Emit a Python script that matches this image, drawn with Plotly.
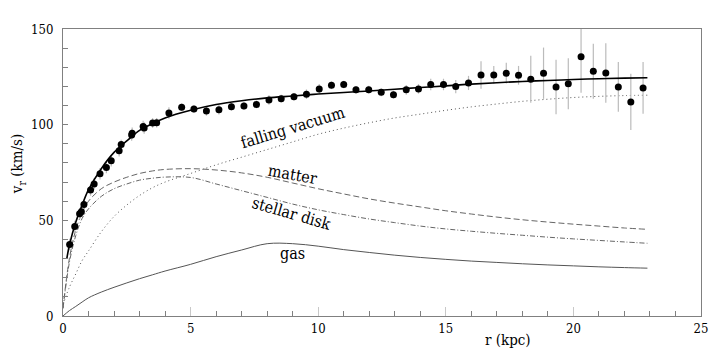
import plotly.graph_objects as go

# observed rotation curve
r_obs = [0.26, 0.46, 0.65, 0.72, 0.82, 1.08, 1.22, 1.45, 1.70, 1.89, 2.20, 2.28, 2.69, 2.71, 3.14,
         3.18, 3.51, 3.67, 4.15, 4.65, 5.13, 5.62, 6.11, 6.60, 7.09, 7.58, 8.07, 8.55, 9.05, 9.54,
         10.04, 10.52, 11.00, 11.48, 11.98, 12.47, 12.95, 13.45, 13.93, 14.41, 14.91, 15.39, 15.89,
         16.38, 16.88, 17.37, 17.85, 18.33, 18.83, 19.32, 19.80, 20.30, 20.78, 21.27, 21.76, 22.25, 22.73]
v_obs = [37.4, 46.8, 53.5, 54.5, 58.3, 65.9, 69.0, 74.3, 77.6, 81.2, 86.4, 89.6, 94.6, 95.5, 99.0,
         98.3, 100.9, 101.0, 106.1, 109.1, 108.2, 107.2, 107.8, 109.4, 109.8, 110.6, 112.9, 113.6, 114.6, 115.9,
         118.7, 120.6, 121.0, 118.2, 118.3, 116.9, 115.7, 118.2, 118.7, 121.0, 121.0, 119.9, 121.8,
         126.0, 126.0, 126.9, 125.8, 123.7, 126.9, 119.7, 121.4, 135.5, 127.9, 127.0, 119.7, 111.9, 119.2]
v_err = [3, 3, 3, 2.5, 2.5, 3, 3, 3, 3, 3, 3, 2.5, 3, 3, 3,
         3, 2.5, 2.5, 3, 2, 2, 2.5, 2.5, 2, 2, 2, 2.5, 2, 2, 2.5,
         2.5, 2, 2, 2, 2, 2, 2, 2.5, 2.5, 3, 3, 3.5, 3.7,
         7.2, 4.6, 5.4, 4.9, 12.3, 13.4, 14.2, 13.3, 18.8, 14.4, 15.5, 13, 14.7, 13.5]

# model curves
r_model = [0, 0.25, 0.5, 0.75, 1, 1.5, 2, 2.5, 3, 3.5, 4, 5, 6, 7, 8, 9, 10, 11, 12, 13,
           14, 15, 16, 17, 18, 19, 20, 21, 22, 22.9]
r_total = [0.15] + r_model[1:]
v_total = [30, 37, 49, 58, 66, 77, 85.5, 91.5, 97, 100.5, 103.5, 107.5, 110.5, 112.5, 114, 115, 116,
           116.8, 117.6, 118.5, 119.4, 120.3, 121.2, 121.9, 122.6, 123.1, 123.6, 124, 124.3, 124.5]
v_vacuum = [6, 15, 22, 29, 34, 44, 52, 58, 63, 67, 70, 74.5, 79, 83, 87, 91, 95, 98.2, 101, 103.5,
            105.5, 107.5, 109.3, 110.8, 112.2, 113.3, 114.2, 114.8, 115.2, 115.4]
v_matter = [4, 30, 45, 54, 60, 66.5, 70, 72.5, 74.5, 75.8, 76.6, 77, 76.3, 74.8, 72.5, 69.5, 66.5, 63.8,
            61.2, 59, 57, 55, 53.3, 51.7, 50.3, 49.1, 48, 47, 46, 45.3]
v_disk = [4, 28, 42, 51, 56, 62.5, 66.5, 69, 71, 72, 72.6, 72.4, 69, 65.5, 62, 58.5, 55.5, 53, 50.7,
          48.8, 47, 45.5, 44.3, 43.2, 42.2, 41.2, 40.3, 39.5, 38.7, 38]
v_gas = [0, 2.8, 5, 7.3, 9.5, 12.5, 15, 17.3, 19.5, 21.5, 23.5, 27, 31, 34.5, 37.8, 37.8, 36.5, 34.7,
         33.2, 31.8, 30.6, 29.6, 28.7, 28, 27.3, 26.7, 26.2, 25.7, 25.3, 25]

curve_labels = ["falling vacuum", "matter", "stellar disk", "gas"]
label_x = [9.0, 9.0, 8.96, 9.0]
label_y = [98.3, 74.2, 53.8, 32.9]
label_angle = [-17, 10, 16, 0]

serif = "DejaVu Serif Condensed, DejaVu Serif"

fig = go.Figure()

fig.add_trace(go.Scatter(x=r_model, y=v_vacuum, mode="lines", line_shape="spline",
                         line=dict(color="#555555", width=1, dash="1px,3px")))
fig.add_trace(go.Scatter(x=r_model, y=v_matter, mode="lines", line_shape="spline",
                         line=dict(color="#666666", width=1, dash="6px,3px")))
fig.add_trace(go.Scatter(x=r_model, y=v_disk, mode="lines", line_shape="spline",
                         line=dict(color="#666666", width=1, dash="5px,2px,1px,2px")))
fig.add_trace(go.Scatter(x=r_model, y=v_gas, mode="lines", line_shape="spline",
                         line=dict(color="#555555", width=1)))
fig.add_trace(go.Scatter(x=r_obs, y=v_obs, mode="markers",
                         marker=dict(color="black", size=7),
                         error_y=dict(type="data", array=v_err, color="#bbbbbb", thickness=1.2, width=0)))
fig.add_trace(go.Scatter(x=r_total, y=v_total, mode="lines", line_shape="spline",
                         line=dict(color="black", width=1.6)))

for text, x, y, a in zip(curve_labels, label_x, label_y, label_angle):
    fig.add_annotation(x=x, y=y, text=text, textangle=a, showarrow=False,
                       font=dict(family=serif, size=16, color="black"))

fig.add_annotation(x=0.697, y=-0.085, xref="paper", yref="paper", text="r (kpc)",
                   showarrow=False, xanchor="center", yanchor="middle",
                   font=dict(family=serif, size=15, color="black"))
fig.add_annotation(x=-0.07, y=0.53, xref="paper", yref="paper", text="v<sub>r</sub> (km/s)",
                   textangle=-90, showarrow=False, xanchor="center", yanchor="middle",
                   font=dict(family=serif, size=15, color="black"))

# the page body has an 8px margin, so the figure is shrunk by that much
fig.update_layout(
    width=712, height=349,
    margin=dict(l=55, r=17, t=21, b=41),
    paper_bgcolor="white", plot_bgcolor="white",
    showlegend=False,
    font=dict(family=serif, size=13, color="black"),
    xaxis=dict(range=[0, 25], dtick=5, showgrid=False, zeroline=False,
               showline=True, linecolor="#808080", linewidth=1, mirror=True,
               ticks="inside", ticklen=9, tickcolor="#c8c8c8",
               minor=dict(ticks="inside", dtick=1, ticklen=5, tickcolor="#808080")),
    yaxis=dict(range=[0, 150], dtick=50, showgrid=False, zeroline=False,
               showline=True, linecolor="#808080", linewidth=1, mirror=True,
               ticks="inside", ticklen=5, tickcolor="#808080", ticklabelstandoff=6,
               minor=dict(ticks="inside", dtick=10, ticklen=5, tickcolor="#808080")),
)

fig.write_html("out.html")
